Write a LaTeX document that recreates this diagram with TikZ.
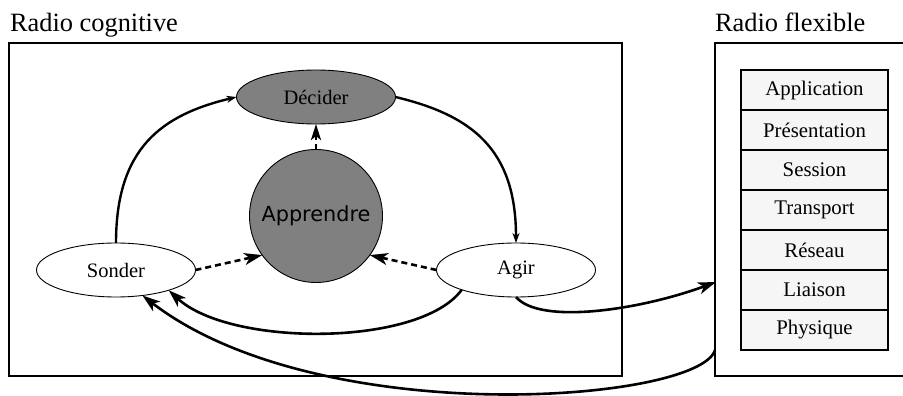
\documentclass[tikz,border=0pt]{standalone}
\usepackage{fontspec}
\setmainfont{Liberation Serif}
\newfontfamily\dejavu{DejaVu Sans}
\usetikzlibrary{shapes.geometric,arrows.meta}
\definecolor{nodegray}{HTML}{808080}
\definecolor{layerfill}{HTML}{F6F6F6}
\begin{document}
\begin{tikzpicture}[x=1pt,y=-1pt,
  every node/.style={inner sep=0pt, outer sep=0pt},
  title/.style={anchor=base west, font=\fontsize{26.4}{30}\selectfont},
  state/.style={ellipse, draw, line width=0.9pt, minimum width=159pt, minimum height=54pt, font=\fontsize{20.5}{24}\selectfont},
  frame/.style={draw, line width=2.8pt},
  layer/.style={draw, line width=2.7pt, fill=layerfill, minimum width=147pt, minimum height=40pt, font=\fontsize{20.8}{24}\selectfont},
  arr/.style={line width=2.6pt, -{Stealth[length=18pt,width=12pt,inset=5pt]}},
  arrs/.style={line width=2.4pt, -{Stealth[length=10pt,width=7pt,inset=3pt]}},
  dsh/.style={line width=2.6pt, dash pattern=on 6pt off 4pt, -{Stealth[length=18pt,width=12pt,inset=5pt]}},
  dshs/.style={line width=2.6pt, dash pattern=on 6pt off 4pt, -{Stealth[length=16pt,width=10pt,inset=4pt]}}
]
\useasboundingbox (0,0) rectangle (903,396);
\clip (0,0) rectangle (903,396);

% titles
\node[title] (t1) at (10,31.5) {Radio cognitive};
\node[title] (t2) at (715,31.5) {Radio flexible};

% frames
\draw[frame] (9,43) rectangle (622,376);
\draw[frame] (715,43) rectangle (920,376);
\coordinate (fin) at (716,282);
\coordinate (fout) at (715,350);

% layers
\node[layer] (l1) at (814.5,90)  {Application};
\node[layer] (l2) at (814.5,130) {Présentation};
\node[layer] (l3) at (814.5,170) {Session};
\node[layer] (l4) at (814.5,210) {Transport};
\node[layer] (l5) at (814.5,250) {Réseau};
\node[layer] (l6) at (814.5,290) {Liaison};
\node[layer] (l7) at (814.5,330) {Physique};

% cycle nodes
\node[state, fill=nodegray] (dec) at (316,97) {Décider};
\node[circle, draw, line width=0.9pt, fill=nodegray, minimum size=133pt, font=\dejavu\fontsize{20.8}{24}\selectfont] (app) at (316,216) {Apprendre};
\node[state, fill=white] (son) at (116,270) {Sonder};
\node[state, fill=white] (agi) at (516,270) {Agir};

% connectors
\draw[arrs] (son.north) .. controls +(0,-95) and +(-75,18) .. (dec.west);
\draw[arrs] (dec.east) .. controls +(75,18) and +(0,-95) .. (agi.north);
\draw[dshs] (app.north) -- (dec.south);
\draw[dsh] (son.east) -- (app.216);
\draw[dsh] (agi.west) -- (app.324);
\draw[arr] (agi.200) .. controls (420,347) and (230,347) .. (son.339);
\draw[arr] (agi.south) .. controls (540,325) and (640,310) .. (fin);
\draw[arr] (fout) .. controls (700,402) and (320,432) .. (son.316);
\end{tikzpicture}
\end{document}
